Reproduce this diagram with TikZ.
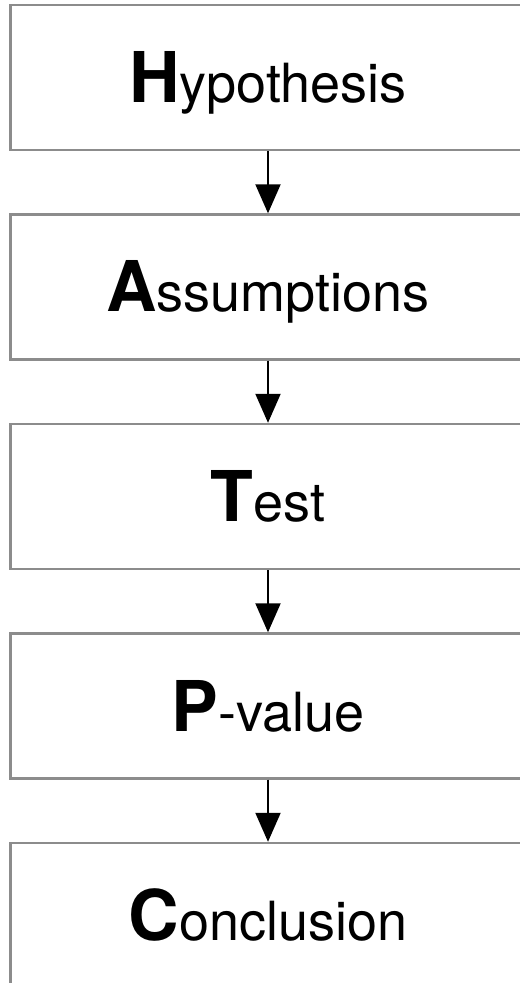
\documentclass[tikz,border=0pt]{standalone}
\usepackage{fontspec}
\setmainfont{TeX Gyre Heros}
\usetikzlibrary{positioning,arrows.meta}
\def\firstletter#1#2{{\fontsize{35}{35}\selectfont\bfseries #1}#2}
\tikzset{
	stagebox/.style={draw=black!45, line width=1.2pt, minimum width=257.5pt, minimum height=72.5pt,
		inner sep=0pt, text height=25pt, text depth=0pt, font=\fontsize{27}{27}\selectfont},
	stagearrow/.style={line width=1pt, -{Triangle[width=12.5pt,length=14.5pt]}}
}

\begin{document}
\begin{tikzpicture}[node distance=31.05pt]
		%%%%% START %%%%%
		
		\useasboundingbox (0, 0) rectangle (259.5pt, -491.5pt);
		
		\node[stagebox] (hyp) at (134pt, -38.75pt) {\firstletter{H}{ypothesis}};
		\node[stagebox, below=of hyp] (ass) {\firstletter{A}{ssumptions}};
		\node[stagebox, below=of ass] (test) {\firstletter{T}{est}};
		\node[stagebox, below=of test] (pval) {\firstletter{P}{-value}};
		\node[stagebox, below=of pval] (concl) {\firstletter{C}{onclusion}};
		
		\draw[stagearrow] (hyp) -- (ass);
		\draw[stagearrow] (ass) -- (test);
		\draw[stagearrow] (test) -- (pval);
		\draw[stagearrow] (pval) -- (concl);
		
		%%%%% END %%%%%
	\end{tikzpicture}
\end{document}
